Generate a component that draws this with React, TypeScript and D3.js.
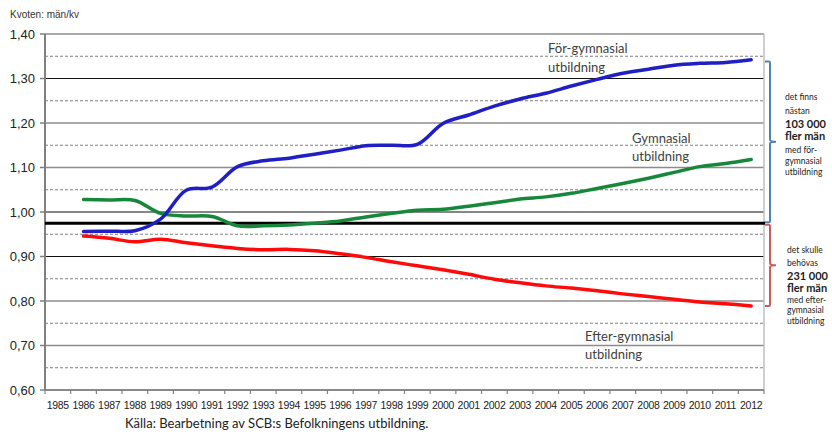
import * as d3 from 'd3';

const yearLabels = ['1985', '1986', '1987', '1988', '1989', '1990', '1991', '1992', '1993', '1994', '1995', '1996', '1997', '1998', '1999', '2000', '2001', '2002', '2003', '2004', '2005', '2006', '2007', '2008', '2009', '2010', '2011', '2012'];
const dataYears = ['1986', '1987', '1988', '1989', '1990', '1991', '1992', '1993', '1994', '1995', '1996', '1997', '1998', '1999', '2000', '2001', '2002', '2003', '2004', '2005', '2006', '2007', '2008', '2009', '2010', '2011', '2012'];

const forGymnasial = [0.956, 0.957, 0.958, 0.984, 1.049, 1.056, 1.102, 1.115, 1.121, 1.130, 1.139, 1.149, 1.150, 1.152, 1.199, 1.218, 1.238, 1.254, 1.267, 1.283, 1.298, 1.312, 1.321, 1.330, 1.334, 1.336, 1.342];
const gymnasial = [1.028, 1.027, 1.026, 0.997, 0.991, 0.990, 0.969, 0.969, 0.971, 0.975, 0.980, 0.989, 0.997, 1.004, 1.006, 1.013, 1.021, 1.029, 1.034, 1.042, 1.053, 1.064, 1.076, 1.089, 1.102, 1.109, 1.118];
const efterGymnasial = [0.946, 0.941, 0.933, 0.939, 0.931, 0.924, 0.918, 0.915, 0.916, 0.913, 0.906, 0.898, 0.888, 0.879, 0.870, 0.860, 0.849, 0.841, 0.834, 0.829, 0.823, 0.816, 0.810, 0.804, 0.798, 0.794, 0.789];

const yTicks = [0.6, 0.7, 0.8, 0.9, 1.0, 1.1, 1.2, 1.3, 1.4];
const yDashed = [0.65, 0.75, 0.85, 0.95, 1.05, 1.15, 1.25, 1.35];
const darkGrid = [0.9, 1.0, 1.3];
const referenceLine = 0.975;

const seriesList = [
  { name: 'Efter-gymnasial', values: efterGymnasial, color: '#ff0a0a' },
  { name: 'Gymnasial', values: gymnasial, color: '#17873a' },
  { name: 'För-gymnasial', values: forGymnasial, color: '#1f1fc4' },
];

const blueNote = [
  { t: 'det finns', bold: false },
  { t: 'nästan', bold: false },
  { t: '103 000', bold: true },
  { t: 'fler män', bold: true },
  { t: 'med för-', bold: false },
  { t: 'gymnasial', bold: false },
  { t: 'utbildning', bold: false },
];
const redNote = [
  { t: 'det  skulle', bold: false },
  { t: 'behövas', bold: false },
  { t: '231  000', bold: true },
  { t: 'fler män', bold: true },
  { t: 'med efter-', bold: false },
  { t: 'gymnasial', bold: false },
  { t: 'utbildning', bold: false },
];

const W = 832;
const H = 434;
const left = 45;
const right = 764;
const top = 34;
const bottom = 390;

function bracket(x: number, y0: number, y1: number) {
  const ym = (y0 + y1) / 2;
  const xe = x - 5;
  const xt = x + 6;
  return `M${xe},${y0} L${x - 1},${y0} Q${x},${y0} ${x},${y0 + 1.5} L${x},${ym - 2} Q${x},${ym} ${xt},${ym} Q${x},${ym} ${x},${ym + 2} L${x},${y1 - 1.5} Q${x},${y1} ${x - 1},${y1} L${xe},${y1}`;
}

export default function App() {
  const x = d3.scaleBand<string>().domain(yearLabels).range([left, right]);
  const y = d3.scaleLinear().domain([0.6, 1.4]).range([bottom, top]);
  const cx = (d: string) => (x(d) ?? 0) + x.bandwidth() / 2;

  const line = d3
    .line<number>()
    .x((_, i) => cx(dataYears[i]))
    .y((d) => y(d))
    .curve(d3.curveCatmullRom.alpha(0.5));

  const sans = 'Liberation Sans, Arial, sans-serif';
  const cal = 'Lato, Open Sans, sans-serif';

  return (
    <svg width={W} height={H} style={{ position: 'absolute', left: 0, top: 0, background: '#fff' }}>
      <text x={10} y={18} fontFamily={sans} fontSize={10} fill="#333">Kvoten: män/kv</text>

      {yDashed.map((v) => (
        <line key={'d' + v} x1={left} x2={right} y1={y(v)} y2={y(v)} stroke="#7f7f7f" strokeWidth={1} strokeDasharray="3,2" />
      ))}
      {yTicks.map((v) => (
        <g key={'g' + v}>
          <line
            x1={left}
            x2={right}
            y1={y(v)}
            y2={y(v)}
            stroke={darkGrid.includes(v) ? '#111' : '#8c8c8c'}
            strokeWidth={darkGrid.includes(v) ? 1.2 : 1.6}
          />
          <line x1={left - 5} x2={left} y1={y(v)} y2={y(v)} stroke="#808080" strokeWidth={1.5} />
          <text x={35} y={y(v)} dy="0.35em" textAnchor="end" fontFamily={sans} fontSize={13} fill="#222">
            {v.toFixed(2).replace('.', ',')}
          </text>
        </g>
      ))}

      <line x1={right} x2={right} y1={top} y2={bottom} stroke="#bfbfbf" strokeWidth={1.5} />
      <line x1={left} x2={left} y1={top} y2={bottom} stroke="#808080" strokeWidth={2} />
      <line x1={left} x2={right} y1={bottom} y2={bottom} stroke="#808080" strokeWidth={1.5} />

      {yearLabels.map((d) => (
        <g key={d}>
          <line x1={x(d) ?? 0} x2={x(d) ?? 0} y1={bottom} y2={bottom + 4} stroke="#808080" strokeWidth={1.2} />
          <text x={cx(d)} y={409} textAnchor="middle" fontFamily={sans} fontSize={10.5} letterSpacing={-0.3} fill="#222">
            {d}
          </text>
        </g>
      ))}
      <line x1={right} x2={right} y1={bottom} y2={bottom + 4} stroke="#808080" strokeWidth={1.2} />

      <line x1={left} x2={right + 1} y1={y(referenceLine)} y2={y(referenceLine)} stroke="#000" strokeWidth={3} />

      {seriesList.map((s) => (
        <path key={s.name} d={line(s.values) ?? ''} fill="none" stroke={s.color} strokeWidth={3.5} strokeLinecap="round" />
      ))}

      <g fontFamily={cal} fontSize={13} fill="#404040">
        <text x={548} y={53}>För-gymnasial</text>
        <text x={548} y={72}>utbildning</text>
        <text x={632} y={143}>Gymnasial</text>
        <text x={632} y={161}>utbildning</text>
        <text x={585} y={341}>Efter-gymnasial</text>
        <text x={585} y={359}>utbildning</text>
      </g>

      <path d={bracket(770, y(1.338), y(referenceLine) - 1)} fill="none" stroke="#4f81bd" strokeWidth={2} />
      <path d={bracket(770, y(referenceLine) + 1.5, y(0.789))} fill="none" stroke="#cc5c5c" strokeWidth={2} />

      <g fontFamily={cal} fill="#222">
        {blueNote.map((l, i) => (
          <text key={'b' + i} x={785} y={[100, 114, 128, 140, 153, 164, 175][i]} fontSize={l.bold ? 11 : 8.5} fontWeight={l.bold ? 'bold' : 'normal'}>
            {l.t}
          </text>
        ))}
        {redNote.map((l, i) => (
          <text key={'r' + i} x={787} y={[253, 266, 280, 292, 303, 313, 324][i]} fontSize={l.bold ? 11 : 8.5} fontWeight={l.bold ? 'bold' : 'normal'}>
            {l.t}
          </text>
        ))}
      </g>

      <text x={125} y={428} fontFamily={cal} fontSize={13} fill="#222">Källa: Bearbetning av SCB:s Befolkningens utbildning.</text>
    </svg>
  );
}
